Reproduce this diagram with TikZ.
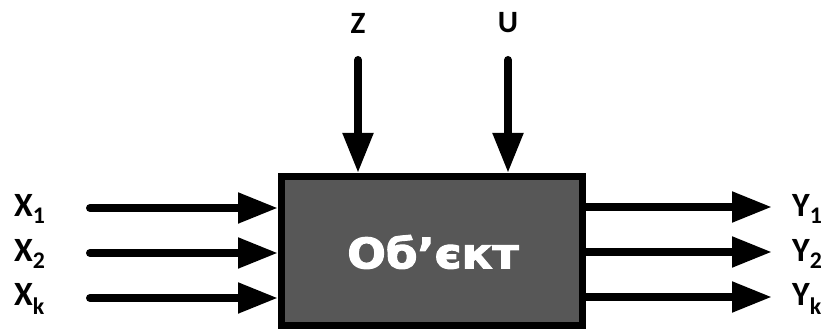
\documentclass[tikz,border=0pt]{standalone}
\usepackage{fontspec}
\setmainfont{Carlito}
\newfontfamily\boxfont[FakeBold=2.5]{DejaVu Sans Bold}
\usetikzlibrary{arrows.meta,positioning}
\definecolor{boxgray}{HTML}{575757}
\tikzset{
  sig/.style={line width=8pt, line cap=round,
    -{Triangle[length=40pt,width=29pt]}},
  lbl/.style={font=\fontsize{34}{34}\selectfont\bfseries, inner sep=0pt},
  toplbl/.style={font=\fontsize{31}{31}\selectfont\bfseries, inner sep=0pt}
}
\begin{document}
\begin{tikzpicture}[x=1pt,y=1pt]
  \useasboundingbox (0,0) rectangle (830,331);
  % object
  \node[draw=black, line width=7pt, fill=boxgray, minimum width=301pt,
        minimum height=149pt, inner sep=0pt] (obj) at (432,80) {};
  \node[text=white, xscale=1.08, font=\boxfont\fontsize{42}{42}\selectfont]
        (objname) at (433,79) {Об’єкт};
  % inputs
  \foreach \i/\s/\y in {1/1/123, 2/2/78, 3/k/33} {
    \coordinate (in\i) at (90,\y);
    \node[lbl, anchor=west] (x\i) at (14,\y-1) {X\textsubscript{\s}};
    \draw[sig] (in\i) -- (in\i -| obj.west);
    \coordinate (out\i) at (772,\y+1);
    \node[lbl, anchor=west] (y\i) at (792,\y-1) {Y\textsubscript{\s}};
    \draw[sig, line cap=butt] (out\i -| obj.east) -- (out\i);
  }
  % disturbances and controls
  \coordinate (zs) at (358,271);
  \coordinate (us) at (508,271);
  \node[toplbl] (z) at (358,308) {Z};
  \node[toplbl] (u) at (508,308) {U};
  \draw[sig] (zs) -- (zs |- obj.north);
  \draw[sig] (us) -- (us |- obj.north);
\end{tikzpicture}
\end{document}
